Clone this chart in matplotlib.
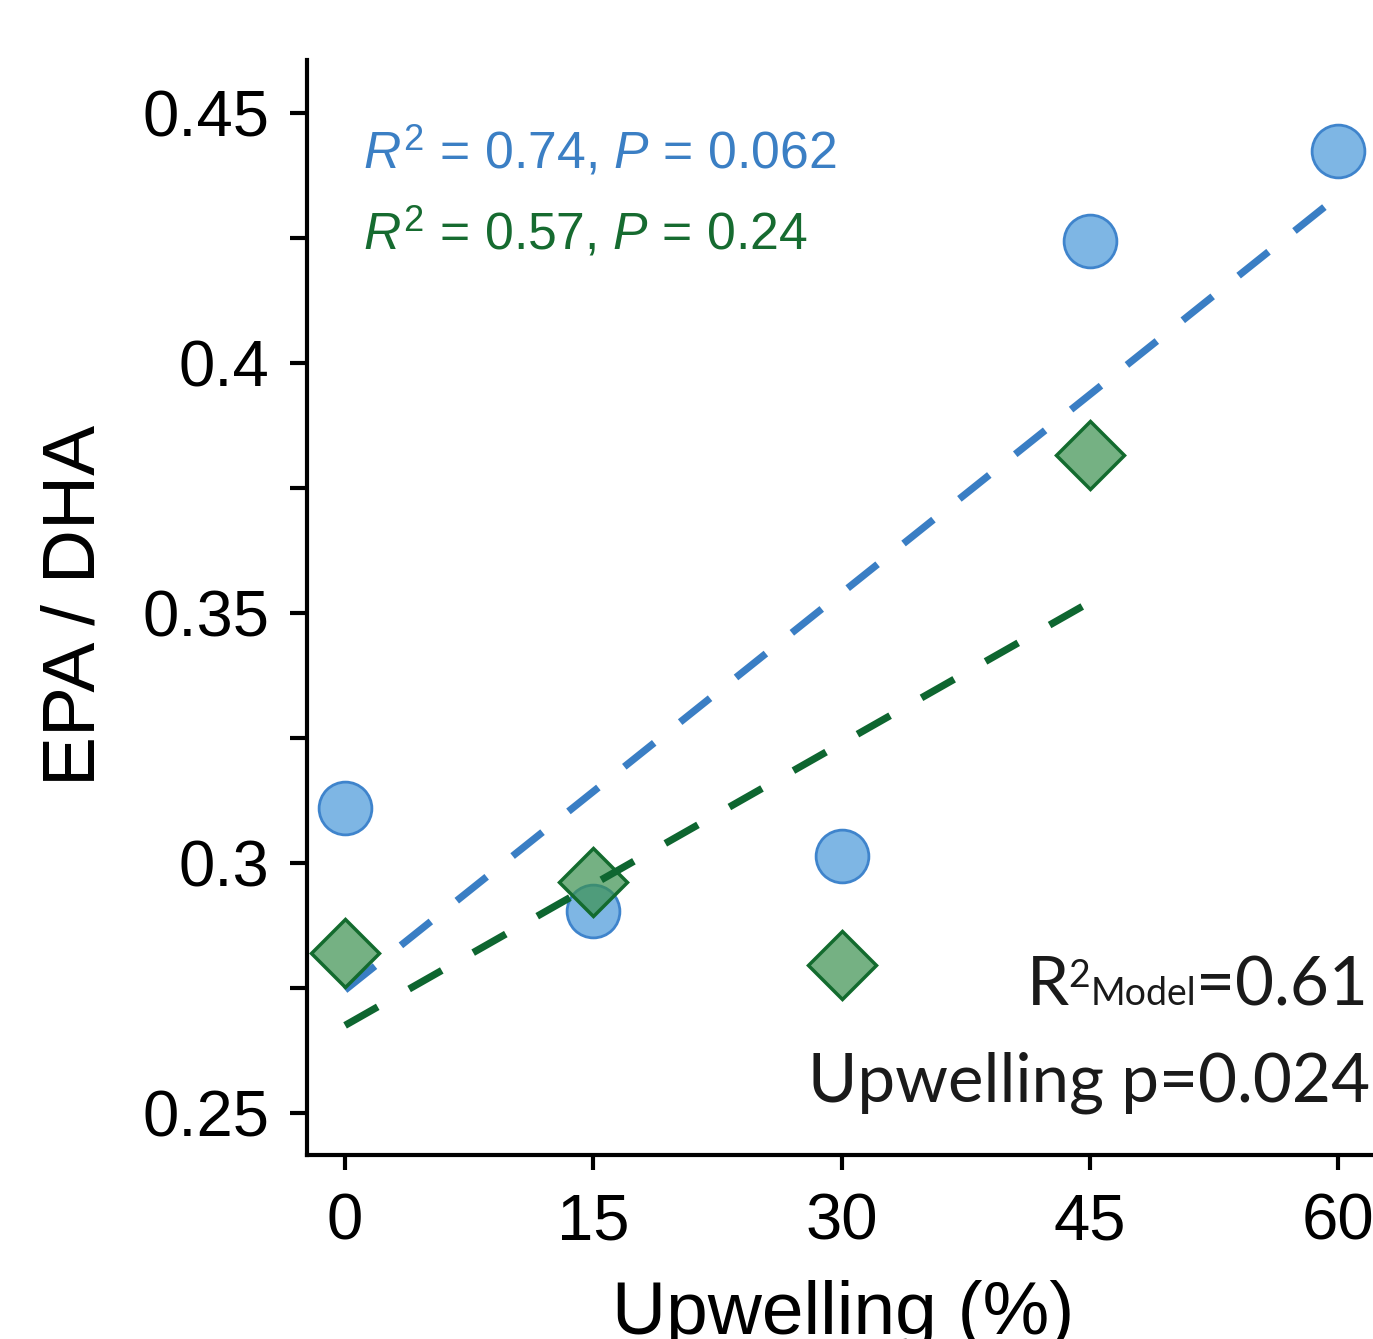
import matplotlib
matplotlib.use('Agg')
import matplotlib.pyplot as plt
import numpy as np

# data
upwelling = [0, 15, 30, 45, 60]
epa_dha_blue = [0.311, 0.2905, 0.3015, 0.4245, 0.4425]
upwelling_green = [0, 15, 30, 45]
epa_dha_green = [0.282, 0.2962, 0.2796, 0.3816]

xticks = [0, 15, 30, 45, 60]
yticks_major = [0.25, 0.30, 0.35, 0.40, 0.45]
yticklabels = ['0.25', '0.3', '0.35', '0.4', '0.45']
yticks_minor = [0.275, 0.325, 0.375, 0.425]

blue_stats = r'$R^2$ = 0.74, $P$ = 0.062'
green_stats = r'$R^2$ = 0.57, $P$ = 0.24'

plt.rcParams['font.family'] = ['Liberation Sans', 'DejaVu Sans']
plt.rcParams['mathtext.fontset'] = 'custom'
plt.rcParams['mathtext.rm'] = 'Liberation Sans'
plt.rcParams['mathtext.it'] = 'Liberation Sans:italic'

W, H = 1373, 1339
fig = plt.figure(figsize=(W / 100, H / 100), dpi=100)
ax = fig.add_axes([307 / W, 1 - 1155 / H, 1 - 307 / W, (1155 - 60) / H])

blue_fill = '#7EB6E4'
blue_edge = '#3F84CC'
blue_line = '#3A7EC4'
green_edge = '#136B2E'
green_line = '#0E6630'

# linear fits
bfit = np.polyfit(upwelling, epa_dha_blue, 1)
gfit = np.polyfit(upwelling_green, epa_dha_green, 1)
xb = np.array([upwelling[0], upwelling[-1]])
xg = np.array([upwelling_green[0], upwelling_green[-1]])

ax.plot(upwelling, epa_dha_blue, 'o', ms=38, mfc=blue_fill, mec=blue_edge,
        mew=2, zorder=2, linestyle='none')
l1, = ax.plot(xb, np.polyval(bfit, xb), color=blue_line, lw=5.2, zorder=3)
l1.set_dashes((5.3, 4.6))
l1.set_dash_capstyle('butt')
ax.plot(upwelling_green, epa_dha_green, 'D', ms=35,
        mfc=(0.23, 0.57, 0.31, 0.7), mec=green_edge, mew=2.5, zorder=4,
        linestyle='none')
l2, = ax.plot(xg, np.polyval(gfit, xg), color=green_line, lw=5.2, zorder=5)
l2.set_dashes((5.2, 5.0))
l2.set_dash_capstyle('butt')

ax.set_xlim(-2.3, 62.1)
ax.set_ylim(0.2416, 0.4606)

ax.spines['top'].set_visible(False)
ax.spines['right'].set_visible(False)
for s in ['left', 'bottom']:
    ax.spines[s].set_linewidth(3)

ax.set_xticks(xticks)
ax.set_xticklabels([str(x) for x in xticks])
ax.set_yticks(yticks_major)
ax.set_yticklabels(yticklabels)
ax.set_yticks(yticks_minor, minor=True)
ax.tick_params(axis='y', which='both', length=12, width=3, direction='out',
               labelsize=47, pad=15)
ax.tick_params(axis='x', length=11, width=3, direction='out',
               labelsize=47, pad=16)

fig.text(75 / W, 1 - 605 / H, 'EPA / DHA', rotation=90, fontsize=54,
         ha='center', va='center')
fig.text(843 / W, 1 - 1334 / H, 'Upwelling (%)', fontsize=54,
         ha='center', va='baseline')

fig.text(363 / W, 1 - 168 / H, blue_stats, fontsize=37.3, color='#3B7FC4',
         va='baseline')
fig.text(363 / W, 1 - 249 / H, green_stats, fontsize=37.3, color='#166B30',
         va='baseline')

# model summary, Calibri-like font
fam = ['Lato', 'DejaVu Sans']
ink = '#1a1a1a'
fig.text(1370 / W, 1 - 1101 / H, 'Upwelling p=0.024', fontsize=48.5,
         family=fam, ha='right', va='baseline', color=ink)
fig.canvas.draw()
r = fig.canvas.get_renderer()
t = fig.text(1368 / W, 1 - 1005 / H, '=0.61', fontsize=48.5, family=fam,
             ha='right', va='baseline', color=ink)
x0 = t.get_window_extent(r).x0
t = fig.text(x0 / W, 1 - 1005 / H, 'Model', fontsize=27, family=fam,
             ha='right', va='baseline', color=ink)
x0 = t.get_window_extent(r).x0
t = fig.text(x0 / W, 1 - 987 / H, '2', fontsize=27, family=fam,
             ha='right', va='baseline', color=ink)
x0 = t.get_window_extent(r).x0
fig.text(x0 / W, 1 - 1005 / H, 'R', fontsize=48.5, family=fam,
         ha='right', va='baseline', color=ink)

plt.savefig('out.png', dpi=100)
